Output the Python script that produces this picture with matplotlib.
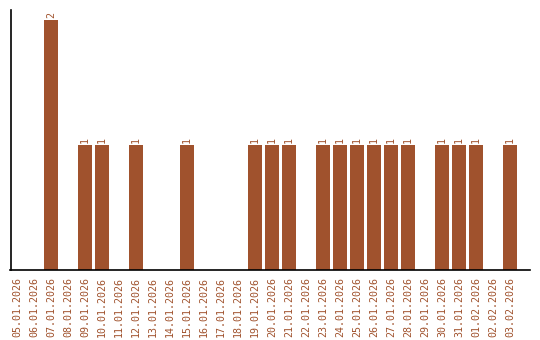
import matplotlib
matplotlib.use('Agg')
import matplotlib.pyplot as plt

# Daily counts
dates = ['05.01.2026', '06.01.2026', '07.01.2026', '08.01.2026', '09.01.2026',
         '10.01.2026', '11.01.2026', '12.01.2026', '13.01.2026', '14.01.2026',
         '15.01.2026', '16.01.2026', '17.01.2026', '18.01.2026', '19.01.2026',
         '20.01.2026', '21.01.2026', '22.01.2026', '23.01.2026', '24.01.2026',
         '25.01.2026', '26.01.2026', '27.01.2026', '28.01.2026', '29.01.2026',
         '30.01.2026', '31.01.2026', '01.02.2026', '02.02.2026', '03.02.2026']
counts = [0, 0, 2, 0, 1, 1, 0, 1, 0, 0,
          1, 0, 0, 0, 1, 1, 1, 0, 1, 1,
          1, 1, 1, 1, 0, 1, 1, 1, 0, 1]

color = '#A0522D'

fig = plt.figure(figsize=(5.4, 3.4), dpi=100)
ax = fig.add_axes([10.5 / 540, 70 / 340, 519.5 / 540, 260 / 340])

x = list(range(len(dates)))
ax.bar(x, counts, width=0.82, color=color)

# value labels above non-empty bars
for xi, c in zip(x, counts):
    if c > 0:
        ax.text(xi, c + 0.02, str(c), rotation=90, ha='center', va='bottom',
                color=color, fontsize=7.2, family='DejaVu Sans Mono')

ax.set_xlim(-0.38, 30.18)
ax.set_ylim(0, 2.08)
ax.set_xticks(x)
ax.set_xticklabels(dates, rotation=90, color=color, fontsize=7.2,
                   family='DejaVu Sans Mono')
ax.tick_params(axis='x', length=0, pad=5)
ax.set_yticks([])
ax.spines['top'].set_visible(False)
ax.spines['right'].set_visible(False)
ax.spines['left'].set_linewidth(1.2)
ax.spines['bottom'].set_linewidth(1.2)

fig.savefig('out.png', dpi=100)
